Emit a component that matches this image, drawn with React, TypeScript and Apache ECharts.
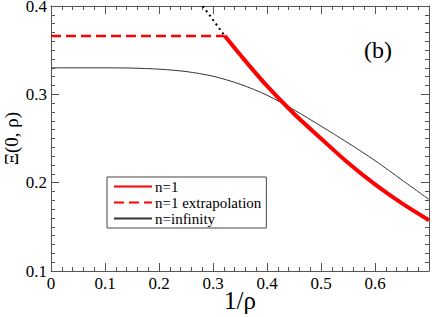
import React, { useEffect, useRef } from "react";
import * as echarts from "echarts";

const xN1 = [0.322, 0.35, 0.4, 0.45, 0.5, 0.55, 0.6, 0.65, 0.7];
const yN1 = [0.366, 0.345, 0.3095, 0.278, 0.25, 0.2225, 0.198, 0.1765, 0.1575];

const xExtrap = [0, 0.322];
const yExtrap = [0.366, 0.366];

const xDotted = [0.281, 0.322];
const yDotted = [0.4, 0.366];

const xInf = [0, 0.1, 0.15, 0.2, 0.25, 0.3, 0.35, 0.4, 0.45, 0.5, 0.55, 0.6, 0.65, 0.7];
const yInf = [0.33, 0.33, 0.3297, 0.3285, 0.3258, 0.3205, 0.3115, 0.299, 0.2825, 0.264, 0.245, 0.225, 0.203, 0.181];

const seriesNames = ["n=1", "n=1 extrapolation", "n=infinity"];
const panelLabel = "(b)";

const zip = (xs: number[], ys: number[]) => xs.map((x, i) => [x, ys[i]]);

const FONT = "Liberation Serif";
const AXIS_COLOR = "#555";

export default function App() {
  const ref = useRef<HTMLDivElement>(null);
  useEffect(() => {
    if (!ref.current) return;
    const chart = echarts.init(ref.current, undefined, { renderer: "svg" });
    const baseX = {
      type: "value" as const,
      min: 0,
      max: 0.7,
      interval: 0.1,
      axisLine: { show: true, onZero: false, lineStyle: { color: AXIS_COLOR, width: 1 } },
      axisTick: { show: true, inside: true, length: 8, lineStyle: { color: AXIS_COLOR } },
      minorTick: { show: true, splitNumber: 5, length: 4, lineStyle: { color: AXIS_COLOR } },
      splitLine: { show: false },
      minorSplitLine: { show: false },
    };
    const baseY = {
      type: "value" as const,
      min: 0.1,
      max: 0.4,
      interval: 0.1,
      axisLine: { show: true, onZero: false, lineStyle: { color: AXIS_COLOR, width: 1 } },
      axisTick: { show: true, inside: true, length: 8, lineStyle: { color: AXIS_COLOR } },
      minorTick: { show: true, splitNumber: 10, length: 4, lineStyle: { color: AXIS_COLOR } },
      splitLine: { show: false },
      minorSplitLine: { show: false },
    };
    chart.setOption({
      animation: false,
      backgroundColor: "#fff",
      textStyle: { fontFamily: FONT },
      grid: {
        left: 51,
        right: 3,
        top: 6,
        bottom: 46,
        containLabel: false,
        outerBoundsMode: "none",
      },
      xAxis: [
        {
          ...baseX,
          position: "bottom",
          name: "1/ρ",
          nameLocation: "middle",
          nameGap: 17,
          nameMoveOverlap: false,
          nameTextStyle: { fontFamily: FONT, fontSize: 25, color: "#000" },
          axisLabel: {
            show: true,
            margin: 4,
            fontFamily: FONT,
            fontSize: 17,
            color: "#000",
            showMaxLabel: false,
            formatter: (v: number) => (v === 0 ? "0" : v.toFixed(1)),
          },
        },
        { ...baseX, position: "top", axisLabel: { show: false } },
      ],
      yAxis: [
        {
          ...baseY,
          position: "left",
          name: "Ξ(0, ρ)",
          nameLocation: "middle",
          nameGap: 30,
          nameMoveOverlap: false,
          nameTextStyle: { fontFamily: FONT, fontSize: 19, color: "#000" },
          axisLabel: {
            show: true,
            margin: 4,
            fontFamily: FONT,
            fontSize: 17,
            lineHeight: 12,
            color: "#000",
            formatter: (v: number) => v.toFixed(1),
          },
        },
        { ...baseY, position: "right", axisLabel: { show: false } },
      ],
      legend: {
        left: 107,
        top: 177,
        orient: "vertical",
        data: seriesNames,
        backgroundColor: "#fff",
        borderColor: "#444",
        borderWidth: 1,
        borderRadius: 0,
        padding: [2, 5, 2, 6],
        itemWidth: 38,
        itemHeight: 10,
        itemGap: 1,
        itemStyle: { opacity: 0 },
        textStyle: { fontFamily: FONT, fontSize: 15, color: "#000", padding: [0, 0, 0, -2] },
      },
      graphic: [
        {
          type: "text",
          left: 364,
          top: 38,
          style: { text: panelLabel, font: `24px ${FONT}`, fill: "#000" },
        },
      ],
      series: [
        {
          name: seriesNames[1],
          type: "line",
          data: zip(xExtrap, yExtrap),
          showSymbol: false,
          symbol: "none",
          lineStyle: { color: "#ff0000", width: 2.5, type: [10, 5] },
          itemStyle: { color: "#ff0000" },
          z: 3,
        },
        {
          name: "dotted",
          type: "line",
          data: zip(xDotted, yDotted),
          showSymbol: false,
          symbol: "none",
          lineStyle: { color: "#000", width: 2, type: [2, 3.5] },
          z: 2,
        },
        {
          name: seriesNames[2],
          type: "line",
          data: zip(xInf, yInf),
          smooth: 0.3,
          showSymbol: false,
          symbol: "none",
          lineStyle: { color: "#333", width: 1 },
          itemStyle: { color: "#333" },
          z: 2,
        },
        {
          name: seriesNames[0],
          type: "line",
          data: zip(xN1, yN1),
          smooth: 0.3,
          showSymbol: false,
          symbol: "none",
          lineStyle: { color: "#ff0000", width: 4 },
          itemStyle: { color: "#ff0000" },
          z: 4,
        },
      ],
    });
    return () => chart.dispose();
  }, []);
  return (
    <div
      ref={ref}
      style={{ position: "fixed", left: 0, top: 0, width: 432, height: 317, background: "#fff" }}
    />
  );
}
